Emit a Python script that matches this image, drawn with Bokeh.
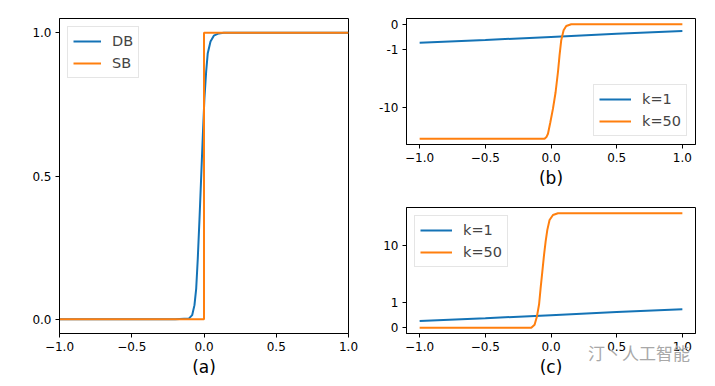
import numpy as np
from bokeh.plotting import figure
from bokeh.models import Range1d, FixedTicker, Div
from bokeh.layouts import row, column
from bokeh.embed import file_html
from bokeh.resources import INLINE

# ---------------- data ----------------
# panel (a)
a_x_db = [-1.0, -0.5, -0.2, -0.105, -0.082, -0.066, -0.054, -0.043, -0.031, -0.019,
          -0.008, 0.003, 0.015, 0.026, 0.045, 0.068, 0.102, 0.137, 0.5, 1.0]
a_y_db = [0.0, 0.0, 0.0, 0.002, 0.014, 0.049, 0.107, 0.212, 0.352, 0.503,
          0.643, 0.772, 0.865, 0.929, 0.970, 0.990, 0.998, 1.0, 1.0, 1.0]
a_x_sb = [-1.0, 0.0, 0.0, 1.0]
a_y_sb = [0.0, 0.0, 1.0, 1.0]

# panel (b)  (derivative of l+)
b_x_k1 = [-1.0, -0.5, 0.0, 0.5, 1.0]
b_y_k1 = [-0.73, -0.62, -0.5, -0.38, -0.27]
b_x_k50 = [-1.0, -0.5, -0.1, -0.049, -0.035, -0.023, -0.005, 0.015, 0.035, 0.053,
           0.065, 0.078, 0.096, 0.116, 0.154, 0.5, 1.0]
b_y_k50 = [-35.3, -35.3, -35.3, -35.3, -33.0, -28.9, -18.2, -10.6, -5.5, -2.45,
           -1.26, -0.63, -0.24, -0.07, 0.0, 0.0, 0.0]

# panel (c)  (derivative of l-)
c_x_k1 = [-1.0, -0.5, 0.0, 0.5, 1.0]
c_y_k1 = [0.27, 0.38, 0.5, 0.62, 0.73]
c_x_k50 = [-1.0, -0.5, -0.150, -0.125, -0.107, -0.091, -0.079, -0.066, -0.053,
           -0.041, -0.028, -0.011, 0.015, 0.053, 0.5, 1.0]
c_y_k50 = [0.0, 0.0, 0.0, 0.12, 0.45, 0.92, 1.78, 3.46, 6.76,
           11.5, 18.4, 27.4, 33.5, 35.9, 35.9, 35.9]

x_ticks = [-1.0, -0.5, 0.0, 0.5, 1.0]
x_tick_labels = ["\u22121.0", "\u22120.5", "0.0", "0.5", "1.0"]
a_y_ticks = [0.0, 0.5, 1.0]
a_y_tick_labels = ["0.0", "0.5", "1.0"]
b_y_ticks = [-10, -1, 0]
b_y_tick_labels = ["-10", "-1", "0"]
c_y_ticks = [0, 1, 10]
c_y_tick_labels = ["0", "1", "10"]
watermark = "汀丶人工智能"

BLUE = "#1473b6"
ORANGE = "#ff7f0e"
FONT = "DejaVu Sans"

# symmetric-log style transform (linear below 1, log above)
LIN = 0.44


def symt(v):
    v = np.asarray(v, dtype=float)
    a = np.abs(v)
    out = np.where(a <= 1, LIN * a, LIN + np.log10(np.maximum(a, 1.0)))
    return np.sign(v) * out + 0.0


def padded(lo, hi, frac=0.05):
    d = (hi - lo) * frac
    return Range1d(lo - d, hi + d)


def make_fig(fw, fh, xr, yr, ml, mr, mt, mb):
    p = figure(frame_width=fw, frame_height=fh, x_range=xr, y_range=yr,
               output_backend="svg", toolbar_location=None,
               min_border_left=ml, min_border_right=mr,
               min_border_top=mt, min_border_bottom=mb)
    p.grid.visible = False
    p.outline_line_color = "black"
    p.outline_line_width = 1
    p.outline_line_alpha = 1
    p.background_fill_color = "white"
    p.border_fill_color = "white"
    for ax in p.axis:
        ax.axis_line_color = "black"
        ax.major_tick_line_color = "black"
        ax.major_tick_out = 4
        ax.major_tick_in = 0
        ax.minor_tick_line_color = None
        ax.major_label_text_font = FONT
        ax.major_label_text_font_size = "12px"
        ax.major_label_text_color = "black"
        ax.major_label_standoff = 4
        ax.axis_label_text_font = FONT
        ax.axis_label_text_font_size = "17px"
        ax.axis_label_text_font_style = "normal"
        ax.axis_label_text_color = "black"
        ax.axis_label_standoff = 3
    p.xaxis.ticker = FixedTicker(ticks=x_ticks)
    p.xaxis.major_label_overrides = {float(t): l for t, l in zip(x_ticks, x_tick_labels)}
    return p


def style_legend(p, loc, gw):
    lg = p.legend[0]
    lg.location = loc
    lg.label_text_font = FONT
    lg.label_text_font_size = "14.5px"
    lg.glyph_width = gw
    lg.glyph_height = 18
    lg.label_height = 18
    lg.label_standoff = 11
    lg.spacing = 4
    lg.padding = 5
    lg.margin = 8
    lg.border_line_color = "#cccccc"
    lg.border_line_width = 1
    lg.background_fill_color = "white"
    lg.background_fill_alpha = 0.8


# ---------------- panel (a) ----------------
pa = make_fig(289, 315, Range1d(-1.0, 1.0), Range1d(-0.05, 1.05), 59, 12, 18, 45)
pa.yaxis.ticker = FixedTicker(ticks=a_y_ticks)
pa.yaxis.major_label_overrides = {float(t): l for t, l in zip(a_y_ticks, a_y_tick_labels)}
pa.xaxis.axis_label = "(a)"
pa.line(a_x_db, a_y_db, line_color=BLUE, line_width=2, legend_label="DB")
pa.line(a_x_sb, a_y_sb, line_color=ORANGE, line_width=2, legend_label="SB")
style_legend(pa, "top_left", 28)

# ---------------- panel (b) ----------------
b_t_k1 = symt(b_y_k1)
b_t_k50 = symt(b_y_k50)
b_lo = float(min(b_t_k1.min(), b_t_k50.min()))
b_hi = float(max(b_t_k1.max(), b_t_k50.max()))
pb = make_fig(289, 126, Range1d(-1.1, 1.1), padded(b_lo, b_hi), 46, 12, 18, 46)
b_tick_pos = [float(v) for v in symt(b_y_ticks)]
pb.yaxis.ticker = FixedTicker(ticks=b_tick_pos)
pb.yaxis.major_label_overrides = {t: l for t, l in zip(b_tick_pos, b_y_tick_labels)}
pb.xaxis.axis_label = "(b)"
pb.line(b_x_k1, b_t_k1, line_color=BLUE, line_width=2, legend_label="k=1")
pb.line(b_x_k50, b_t_k50, line_color=ORANGE, line_width=2, legend_label="k=50")
style_legend(pb, "bottom_right", 32)

# ---------------- panel (c) ----------------
c_t_k1 = symt(c_y_k1)
c_t_k50 = symt(c_y_k50)
c_lo = float(min(c_t_k1.min(), c_t_k50.min()))
c_hi = float(max(c_t_k1.max(), c_t_k50.max()))
pc = make_fig(289, 126, Range1d(-1.1, 1.1), padded(c_lo, c_hi), 46, 12, 17, 45)
c_tick_pos = [float(v) for v in symt(c_y_ticks)]
pc.yaxis.ticker = FixedTicker(ticks=c_tick_pos)
pc.yaxis.major_label_overrides = {t: l for t, l in zip(c_tick_pos, c_y_tick_labels)}
pc.xaxis.axis_label = "(c)"
pc.line(c_x_k1, c_t_k1, line_color=BLUE, line_width=2, legend_label="k=1")
pc.line(c_x_k50, c_t_k50, line_color=ORANGE, line_width=2, legend_label="k=50")
style_legend(pc, "top_left", 32)

wm = Div(text=watermark, width=110, height=22,
         styles={"position": "absolute", "left": "583px", "top": "337px",
                 "color": "#a8a8a8", "font-family": "Noto Sans CJK SC",
                 "font-size": "17px", "white-space": "nowrap", "line-height": "22px",
                 "z-index": "10"})

layout = row(pa, column(pb, pc, spacing=0), wm, spacing=0)

open("out.html", "w").write(file_html(layout, INLINE))
